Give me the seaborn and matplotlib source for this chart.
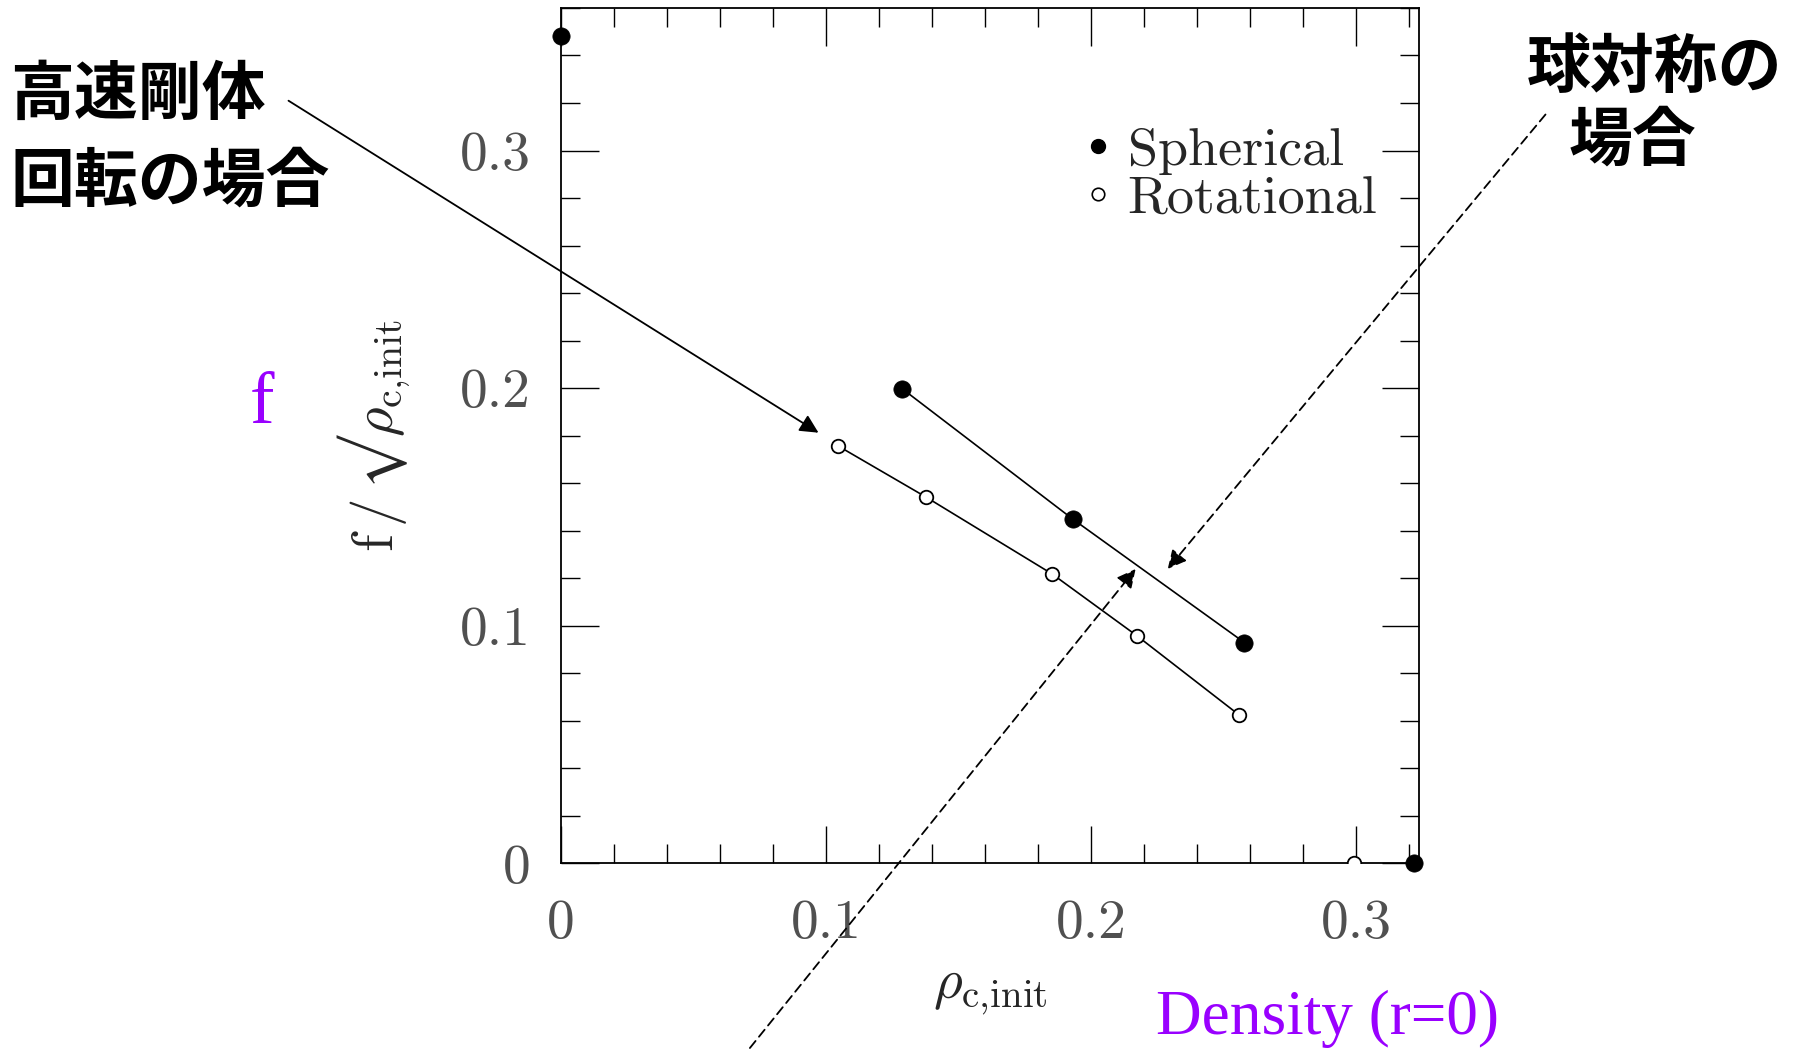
import numpy as np
import pandas as pd
import matplotlib
matplotlib.use('Agg')
import matplotlib.pyplot as plt
import seaborn as sns
from matplotlib.lines import Line2D
from matplotlib.ticker import MultipleLocator

# ---------------- data ----------------
sph_rho = [0.1287, 0.1931, 0.2579]
sph_f = [0.1998, 0.1449, 0.0929]
sph_extra_rho = [0.0, 0.3218]
sph_extra_f = [0.348, 0.0]
rot_rho = [0.1045, 0.1378, 0.1853, 0.2173, 0.2557]
rot_f = [0.1757, 0.1541, 0.1218, 0.0958, 0.0626]
rot_extra_rho = [0.2994]
rot_extra_f = [0.0]
series_labels = ['Spherical', 'Rotational']
xtick_vals = [0, 0.1, 0.2, 0.3]
xtick_labels = ['0', '0.1', '0.2', '0.3']
ytick_vals = [0, 0.1, 0.2, 0.3]
ytick_labels = ['0', '0.1', '0.2', '0.3']

sns.set_style('white')
plt.rcParams['font.family'] = ['Noto Sans CJK JP', 'DejaVu Sans']
plt.rcParams['mathtext.fontset'] = 'cm'

W, H = 1795, 1049
fig = plt.figure(figsize=(W / 100, H / 100), dpi=100)
ax = fig.add_axes([0.3125, 0.1771, 0.4783, 0.8153])

sph_df = pd.DataFrame({'rho': sph_rho, 'f': sph_f})
rot_df = pd.DataFrame({'rho': rot_rho, 'f': rot_f})
sph_all = pd.DataFrame({'rho': sph_rho + sph_extra_rho, 'f': sph_f + sph_extra_f})
rot_all = pd.DataFrame({'rho': rot_rho + rot_extra_rho, 'f': rot_f + rot_extra_f})

sns.lineplot(data=sph_df, x='rho', y='f', color='k', lw=1.2, sort=False, ax=ax)
sns.lineplot(data=rot_df, x='rho', y='f', color='k', lw=1.2, sort=False, ax=ax)
sns.scatterplot(data=sph_all, x='rho', y='f', color='k', edgecolor='k', s=155,
                linewidth=0.5, zorder=5, ax=ax)
ax.collections[-1].set_clip_on(False)
sns.scatterplot(data=rot_all, x='rho', y='f', color='white', edgecolor='k', s=95,
                linewidth=1.3, zorder=5, ax=ax)

ax.set_xlim(0, 0.324)
ax.set_ylim(0, 0.36)
ax.set_xticks(xtick_vals)
ax.set_xticklabels(xtick_labels)
ax.set_yticks(ytick_vals)
ax.set_yticklabels(ytick_labels)
ax.xaxis.set_minor_locator(MultipleLocator(0.02))
ax.yaxis.set_minor_locator(MultipleLocator(0.02))
ax.tick_params(which='both', direction='in', top=True, right=True, bottom=True,
               left=True, colors='k')
ax.tick_params(which='major', length=27, width=1.0)
ax.tick_params(which='minor', length=13.5, width=1.0)
ax.tick_params(axis='x', which='major', pad=26)
ax.tick_params(axis='y', which='major', pad=22)
for lab in ax.get_xticklabels() + ax.get_yticklabels():
    lab.set_fontfamily('cmr10')
    lab.set_fontsize(40)
    lab.set_color('#505050')
for sp in ax.spines.values():
    sp.set_color('k')
    sp.set_linewidth(1.3)

ax.set_xlabel(r'$\rho_{\mathrm{c{,}init}}$', fontsize=40)
ax.set_ylabel('$\\mathrm{f}\\,/\\,\u221a\\rho_{\\mathrm{c{,}init}}$', fontsize=41)
ax.xaxis.set_label_coords(0.5, -0.112)
ax.yaxis.set_label_coords(-0.172, 0.5)

handles = [
    Line2D([], [], ls='none', marker='o', ms=10, mfc='k', mec='k'),
    Line2D([], [], ls='none', marker='o', ms=9, mfc='white', mec='k', mew=1.2),
]
ax.legend(handles, series_labels, loc='upper left', bbox_to_anchor=(0.575, 0.892),
          frameon=False, handlelength=0.6, handletextpad=0.25, labelspacing=0.0,
          borderpad=0, prop={'family': 'cmr10', 'size': 39})

# ---------------- annotations ----------------
def fx(px):
    return px / W

def fy(py):
    return 1 - py / H

ax.annotate('', xy=(fx(818.5), fy(432.7)), xycoords='figure fraction',
            xytext=(fx(288.5), fy(100.7)), textcoords='figure fraction',
            arrowprops=dict(arrowstyle='-|>', color='k', lw=1.3, mutation_scale=28,
                            shrinkA=0, shrinkB=0), annotation_clip=False)
ax.annotate('', xy=(fx(1167.7), fy(569)), xycoords='figure fraction',
            xytext=(fx(1545.5), fy(114.5)), textcoords='figure fraction',
            arrowprops=dict(arrowstyle='-|>', color='k', lw=1.3, ls=(0, (5, 3)),
                            mutation_scale=28, shrinkA=0, shrinkB=0),
            annotation_clip=False)
ax.annotate('', xy=(fx(1135.6), fy(569)), xycoords='figure fraction',
            xytext=(fx(749.9), fy(1048)), textcoords='figure fraction',
            arrowprops=dict(arrowstyle='-|>', color='k', lw=1.3, ls=(0, (5, 3)),
                            mutation_scale=28, shrinkA=0, shrinkB=0),
            annotation_clip=False)

jp = dict(fontsize=46, fontweight='bold', color='k', va='center',
          family=['Noto Sans CJK JP', 'DejaVu Sans'])
fig.text(fx(10), fy(95), '高速剛体', ha='left', **jp)
fig.text(fx(10), fy(182), '回転の場合', ha='left', **jp)
fig.text(fx(1655), fy(68), '球対称の', ha='center', **jp)
fig.text(fx(1632), fy(141), '場合', ha='center', **jp)

purple = '#9900ff'
fig.text(fx(262), fy(405), 'f', fontsize=53, color=purple, ha='center', va='center',
         family='Liberation Serif')
fig.text(fx(1156), fy(1019), 'Density (r=0)', fontsize=45.5, color=purple, ha='left',
         va='center', family='Liberation Serif')

fig.savefig('out.png', dpi=100)
